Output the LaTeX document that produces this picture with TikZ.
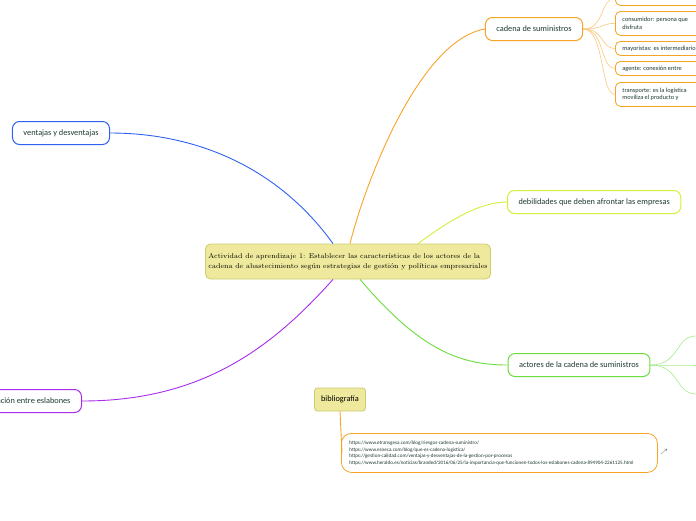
\documentclass[tikz,border=0pt]{standalone}
\usepackage{fontspec}
\setsansfont{Carlito}
\usepackage{tikz}
\usetikzlibrary{positioning}
\definecolor{topicfill}{HTML}{EEE99C}
\definecolor{topicline}{HTML}{CFCB70}
\definecolor{inktext}{HTML}{1F3A35}
\definecolor{orangeline}{HTML}{F7A325}
\definecolor{limeline}{HTML}{D5EE3A}
\definecolor{greenline}{HTML}{6BDD3C}
\definecolor{blueline}{HTML}{2F62F0}
\definecolor{purpleline}{HTML}{A72CEC}
\tikzset{
        x=1pt, y=-1pt, % pixel grid, y downwards
        branch/.style={draw, rounded corners=7pt, line width=1pt, fill=white, text=inktext, font=\sffamily\fontsize{8.3}{10}\selectfont, minimum height=23pt, inner xsep=11pt},
        leaf/.style={draw=orangeline, rounded corners=5pt, line width=0.8pt, fill=white, text=inktext, font=\sffamily\fontsize{6.3}{7.5}\selectfont, align=flush left, anchor=north west, inner xsep=7pt, text width=100pt},
        link/.style={line width=0.9pt},
    }
\begin{document}
\begin{tikzpicture}
  \useasboundingbox (0,0) rectangle (696,520);
  \clip (0,0) rectangle (696,520);
  % main topic
  \node[draw=topicline, fill=topicfill, rounded corners=5pt, line width=0.8pt, text=black, align=left, font=\fontsize{7.05}{10}\selectfont, minimum width=276pt, minimum height=35pt, inner xsep=3pt] (main) at (348,261.5) {Actividad de aprendizaje 1: Establecer las caracter\'isticas de los actores de la\\cadena de abastecimiento seg\'un estrategias de gesti\'on y pol\'iticas empresariales};
  % branches
  \node[branch, draw=orangeline] (cadena) at (534,29) {cadena de suministros};
  \node[branch, draw=limeline, anchor=west] (debil) at (507,202) {debilidades que deben afrontar las empresas};
  \node[branch, draw=greenline] (actores) at (579,365) {actores de la cadena de suministros};
  \node[branch, draw=blueline, anchor=east] (ventajas) at (110,133) {ventajas y desventajas};
  \node[branch, draw=purpleline, anchor=east] (relacion) at (82,401) {relaci\'on entre eslabones};
  \node[draw=topicline, fill=topicfill, rounded corners=3pt, line width=0.8pt, text=black, font=\sffamily\fontsize{8.3}{10}\selectfont, minimum height=23pt, minimum width=51pt] (biblio) at (340,399.5) {bibliograf\'ia};
  % leaves of cadena de suministros
  \node[leaf, minimum height=14pt] (lf0) at (615,-9) {};
  \node[leaf, minimum height=24pt] (lf1) at (615,11) {consumidor: persona que\\disfruta};
  \node[leaf, minimum height=14pt] (lf2) at (615,41) {mayoristas: es intermediario};
  \node[leaf, minimum height=14pt] (lf3) at (615,61) {agente: conexi\'on entre};
  \node[leaf, minimum height=24pt] (lf4) at (615,82) {transporte: es la log\'istica\\moviliza el producto y};
  % references
  \node[draw=orangeline, rounded corners=10pt, line width=0.8pt, fill=white, text=inktext, align=flush left, anchor=north west, font=\sffamily\fontsize{5.1}{6.5}\selectfont, text width=300pt, minimum height=39pt, inner xsep=8pt] (refs) at (341,433) {https://www.etransgesa.com/blog/riesgos-cadena-suministro/\\https://www.esneca.com/blog/que-es-cadena-logistica/\\https://gestion-calidad.com/ventajas-y-desventajas-de-la-gestion-por-procesos\\https://www.heraldo.es/noticias/branded/2016/06/25/la-importancia-que-funcionen-todos-los-eslabones-cadena-894904-2261125.html};
  \node[font=\fontsize{6}{6}\selectfont, text=inktext] (icon) at (664,452) {$\nearrow$};
  \coordinate (a1) at (696,336);
  \coordinate (a2) at (696,365);
  \coordinate (a3) at (696,394);
  % connectors
  \draw[link, orangeline] (main.north) ++(2,0) .. controls (366,180) and (420,40) .. (cadena.west);
  \draw[link, limeline] (main.north) ++(70,0) .. controls (450,220) and (480,202) .. (debil.west);
  \draw[link, greenline] (main.south) ++(12,0) .. controls (420,350) and (460,365) .. (actores.west);
  \draw[link, blueline] (main.north) ++(-15,0) .. controls (280,170) and (200,133) .. (ventajas.east);
  \draw[link, purpleline] (main.south) ++(-15,0) .. controls (270,350) and (200,401) .. (relacion.east);
  \draw[link, orangeline] (biblio.south) -- ([xshift=1pt]refs.west);
  \foreach \leafnode in {lf0,lf1,lf2,lf3,lf4}
    \draw[orangeline!60, line width=0.6pt] (cadena.east) .. controls (605,29) and (600,0 |- \leafnode.west) .. (\leafnode.west);
  \foreach \actor in {a1,a2,a3}
    \draw[greenline!60, line width=0.6pt] (actores.east) .. controls (680,365) and (675,0 |- \actor) .. (\actor);
\end{tikzpicture}
\end{document}
